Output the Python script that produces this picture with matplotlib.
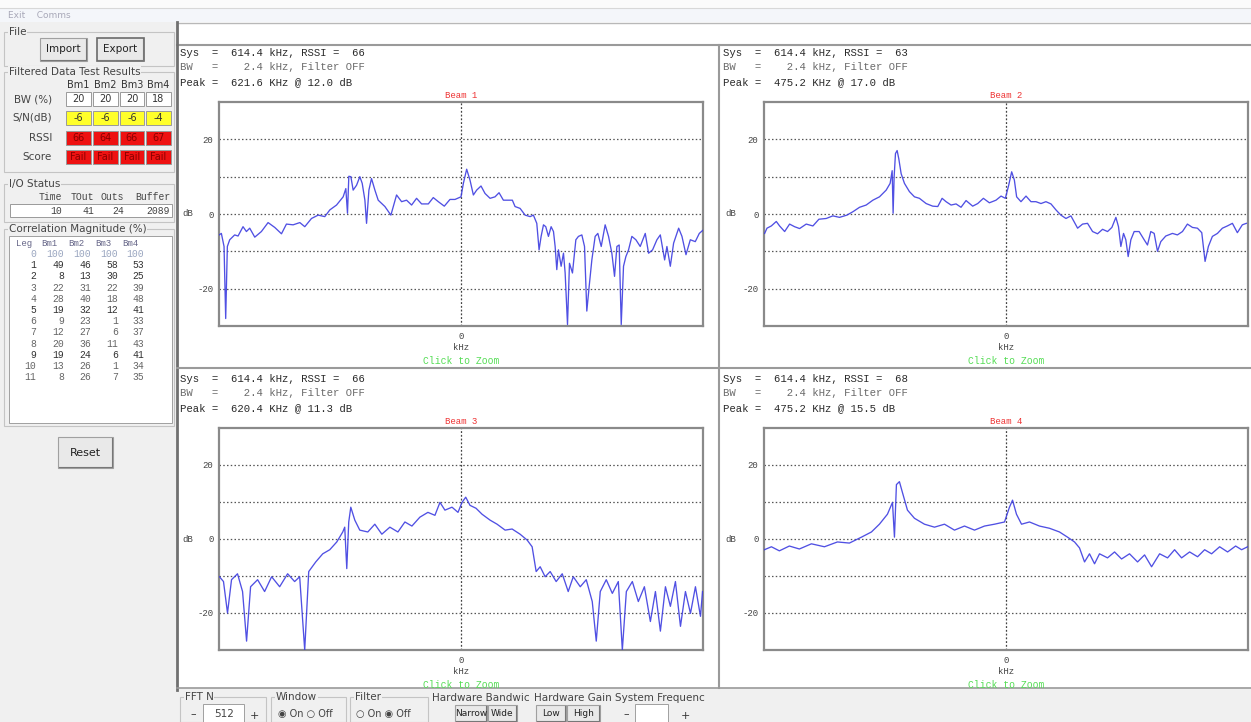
import matplotlib
matplotlib.use("Agg")
import matplotlib.pyplot as plt
from matplotlib.patches import Rectangle

# ---------------- data ----------------
beam_names = ["Beam 1", "Beam 2", "Beam 3", "Beam 4"]
header_sys = ["Sys  =  614.4 kHz, RSSI =  66", "Sys  =  614.4 kHz, RSSI =  63",
              "Sys  =  614.4 kHz, RSSI =  66", "Sys  =  614.4 kHz, RSSI =  68"]
header_bw = ["BW   =    2.4 kHz, Filter OFF"] * 4
header_peak = ["Peak =  621.6 KHz @ 12.0 dB", "Peak =  475.2 KHz @ 17.0 dB",
               "Peak =  620.4 KHz @ 11.3 dB", "Peak =  475.2 KHz @ 15.5 dB"]

b1_khz = [-307, -304.2, -300.8, -298.7, -296.6, -293.6, -287.3, -283.0, -276.7, -272.4, -268.2, -261.8,
          -253.4, -244.9, -236.4, -227.9, -221.6, -213.1, -204.6, -198.3, -189.8, -181.3, -172.9, -166.5,
          -158.0, -149.6, -146.2, -144.1, -142.4, -139.8, -136.9, -132.6, -128.4, -125.4, -122.0, -119.9,
          -116.9, -113.6, -109.3, -105.1, -96.6, -89.0, -81.8, -75.4, -69.1, -62.7, -56.4, -50.0, -41.5,
          -35.2, -28.8, -21.2, -14.0, -7.6, 0, 3.0, 7.2, 11.4, 15.7, 19.9, 25.4, 30.5, 36.9, 43.2, 48.3,
          53.8, 60.2, 65.2, 68.6, 75.0, 81.4, 87.7, 91.9, 96.2, 99.1, 101.7, 104.7, 107.6, 111.0, 114.4,
          117.4, 119.5, 121.6, 123.7, 127.1, 130.1, 132.2, 135.2, 137.7, 141.5, 145.8, 149.1, 153.4, 156.8,
          159.7, 162.7, 166.1, 170.3, 173.7, 178.0, 183.0, 187.3, 191.5, 194.9, 197.9, 200.8, 203.4, 206.3,
          209.3, 212.7, 216.9, 222.0, 227.5, 233.9, 238.1, 243.2, 248.7, 253.0, 258.5, 261.4, 265.7, 269.9,
          276.3, 280.5, 285.6, 291.1, 297.4, 302.5, 306.8]
b1_db = [-5.6, -5.2, -8.7, -28.0, -8.7, -6.9, -5.6, -5.9, -3.4, -4.7, -3.8, -6.2, -4.7, -2.3, -3.6, -5.3,
         -2.7, -2.9, -2.3, -3.4, -1.2, -0.3, -0.7, 1.1, 2.4, 4.6, 6.8, 0.2, 10.1, 10.0, 6.4, 7.7, 10.0, 8.2,
         3.7, -2.5, 6.4, 9.5, 6.4, 3.7, 2.0, -0.3, 5.1, 3.3, 3.7, 2.4, 4.2, 2.7, 2.7, 4.4, 3.3, 2.1, 3.9, 3.9,
         4.6, 8.2, 12.0, 9.1, 5.1, 6.4, 7.5, 5.5, 4.2, 4.6, 5.7, 3.7, 3.7, 3.7, 2.0, 1.5, -0.3, -0.7, -0.3,
         -2.5, -9.6, -6.0, -2.9, -3.4, -6.0, -3.4, -4.7, -8.7, -14.9, -9.6, -14.0, -10.5, -15.8, -29.6, -13.2,
         -15.8, -6.9, -6.0, -5.6, -8.7, -26.0, -19.4, -12.3, -6.0, -5.2, -8.7, -2.9, -6.0, -10.5, -16.7, -8.7,
         -8.3, -29.6, -14.0, -11.4, -9.6, -6.0, -6.9, -8.7, -5.2, -10.5, -9.6, -6.9, -5.6, -12.3, -8.7, -14.0,
         -7.8, -3.8, -6.0, -10.9, -6.9, -7.4, -5.2, -4.4]

b2_khz = [-306.4, -303.4, -297.9, -291.6, -287.4, -281.0, -274.7, -268.4, -262.0, -253.6, -245.1, -237.5,
          -228.2, -219.8, -211.3, -202.0, -194.4, -185.9, -177.5, -169.0, -160.6, -152.1, -147.1, -144.5,
          -143.3, -142.0, -140.3, -138.2, -136.1, -133.1, -128.9, -122.6, -116.2, -109.9, -101.4, -93.0,
          -86.6, -81.1, -76.1, -69.7, -63.4, -57.1, -50.7, -42.3, -35.9, -28.7, -21.1, -12.7, -6.3, -0.8,
          3.4, 7.2, 10.6, 13.5, 19.0, 25.4, 31.7, 38.0, 44.4, 50.7, 57.1, 63.4, 69.7, 76.1, 82.4, 90.9, 97.2,
          103.5, 109.9, 116.2, 122.6, 128.9, 134.4, 139.5, 142.8, 145.8, 149.2, 152.1, 155.1, 158.5, 162.7,
          169.0, 175.4, 179.6, 183.8, 188.1, 192.3, 196.5, 202.8, 211.3, 217.6, 224.0, 230.3, 236.7, 243.0,
          248.5, 252.7, 256.9, 262.0, 268.4, 274.7, 281.0, 287.4, 293.7, 300.0, 305.1]
b2_db = [-5.2, -3.8, -3.2, -2.0, -3.2, -4.7, -2.7, -3.4, -3.9, -2.7, -3.2, -1.4, -1.2, -0.5, -0.9, -0.3,
         0.6, 1.8, 2.4, 3.7, 4.6, 6.4, 8.2, 11.6, 0.2, 10.0, 16.2, 17.0, 14.8, 10.8, 8.2, 6.0, 4.6, 4.2, 2.8,
         2.1, 2.0, 4.2, 3.3, 2.4, 2.7, 1.8, 3.6, 2.1, 2.8, 4.2, 3.0, 3.7, 4.8, 4.2, 7.7, 11.3, 9.1, 4.6, 3.3,
         4.8, 3.3, 3.3, 2.8, 3.3, 2.7, 1.1, -0.3, -1.2, -0.5, -3.8, -2.7, -2.5, -4.7, -5.3, -4.1, -4.7, -3.6,
         -0.9, -3.4, -8.7, -5.2, -6.9, -11.4, -6.9, -4.7, -4.7, -6.9, -8.3, -4.7, -5.2, -10.0, -7.4, -5.9,
         -5.2, -5.6, -4.7, -2.7, -3.6, -3.8, -5.0, -12.7, -8.7, -6.0, -5.2, -3.8, -3.2, -2.5, -5.0, -2.9, -2.5]

b3_khz = [-306.6, -301.5, -296.4, -291.3, -283.7, -277.3, -272.2, -267.1, -258.2, -249.3, -240.4, -230.2,
          -220.1, -211.2, -204.8, -198.4, -193.3, -184.4, -175.5, -166.6, -157.7, -150.1, -147.6, -145.0,
          -142.5, -139.9, -134.8, -128.5, -118.3, -109.4, -100.5, -90.3, -80.1, -71.2, -62.3, -52.2, -42.0,
          -33.1, -26.7, -20.4, -11.4, -3.8, 1.3, 6.0, 11.4, 19.1, 26.7, 36.9, 45.8, 56.0, 64.9, 75.0, 84.0,
          90.3, 95.4, 100.5, 106.8, 113.2, 120.8, 128.5, 136.1, 142.5, 151.4, 159.0, 166.6, 171.7, 176.8,
          184.4, 192.1, 199.7, 204.8, 209.9, 217.5, 225.1, 232.8, 240.4, 246.8, 253.1, 259.5, 265.8, 272.2,
          278.6, 284.9, 291.3, 297.6, 304.0, 306.6]
b3_db = [-10.2, -11.5, -20.0, -11.0, -9.4, -14.2, -27.6, -12.9, -11.0, -14.2, -10.2, -12.9, -9.4, -11.5,
         -10.2, -30.0, -8.8, -6.2, -4.0, -2.9, -0.8, 1.9, 3.2, -8.0, 4.6, 8.6, 5.1, 2.4, 1.9, 4.0, 1.3, 3.2,
         1.9, 4.6, 3.5, 5.9, 7.2, 6.4, 9.9, 7.8, 8.6, 7.2, 9.9, 11.3, 9.1, 8.3, 6.7, 5.1, 4.0, 2.4, 2.7, 1.3,
         -0.3, -2.1, -8.8, -7.5, -10.2, -8.8, -11.5, -9.4, -14.2, -10.2, -12.9, -11.0, -16.9, -27.6, -14.2,
         -11.0, -14.7, -11.5, -30.0, -14.2, -11.5, -16.9, -12.9, -22.3, -14.2, -24.9, -12.9, -18.2, -11.5,
         -23.6, -14.2, -20.1, -12.9, -20.9, -14.2]

b4_khz = [-306.7, -297.8, -287.7, -275.0, -262.3, -247.0, -230.5, -214.0, -198.8, -183.5, -170.8, -160.7,
          -150.5, -144.1, -141.6, -139.1, -135.3, -131.5, -125.1, -116.2, -103.5, -90.8, -78.1, -65.4, -52.7,
          -40.0, -27.3, -14.6, -1.9, 4.4, 8.3, 13.3, 19.7, 29.8, 42.5, 55.2, 67.9, 78.1, 87.0, 93.3, 99.7,
          106.0, 112.4, 118.7, 128.9, 137.8, 146.7, 156.8, 167.0, 175.9, 184.8, 195.0, 205.1, 214.0, 222.9,
          233.1, 243.2, 252.1, 261.0, 271.2, 281.3, 291.5, 299.1, 306.7]
b4_db = [-2.9, -2.1, -3.2, -1.9, -2.7, -1.3, -2.1, -0.8, -1.1, 0.5, 1.9, 4.0, 6.7, 9.9, 0.5, 14.7, 15.5,
         12.6, 7.8, 5.6, 4.0, 3.2, 4.0, 2.4, 3.5, 2.4, 3.5, 4.0, 4.6, 8.6, 10.5, 6.7, 4.0, 4.6, 3.5, 2.9, 1.9,
         0.5, -0.8, -2.4, -6.2, -4.0, -6.7, -4.0, -5.1, -3.5, -5.4, -4.0, -6.2, -4.3, -7.5, -4.0, -5.1, -2.9,
         -5.1, -3.5, -4.8, -2.9, -4.0, -2.1, -3.5, -1.9, -2.9, -2.1]

col_names = ["Bm1", "Bm2", "Bm3", "Bm4"]
bw_pct = [20, 20, 20, 18]
snr_db = [-6, -6, -6, -4]
rssi = [66, 64, 66, 67]
score = ["Fail", "Fail", "Fail", "Fail"]
io_labels = ["Time", "TOut", "Outs", "Buffer"]
io_values = [10, 41, 24, 2089]
corr_lags = list(range(12))
corr_bm1 = [100, 49, 8, 22, 28, 19, 9, 12, 20, 19, 13, 8]
corr_bm2 = [100, 46, 13, 31, 40, 32, 23, 27, 36, 24, 26, 26]
corr_bm3 = [100, 58, 30, 22, 18, 12, 1, 6, 11, 6, 1, 7]
corr_bm4 = [100, 53, 25, 39, 48, 41, 33, 37, 43, 41, 34, 35]
fft_n = "512"

# ---------------- figure ----------------
W, H = 1251, 722
fig = plt.figure(figsize=(W / 100, H / 100), dpi=100)
bg = fig.add_axes([0, 0, 1, 1])
bg.set_xlim(0, W)
bg.set_ylim(H, 0)
bg.axis("off")

SANS = "DejaVu Sans"
MONO = "Liberation Mono"
GUI = "#f0f0f0"


def rect(x0, y0, x1, y1, fc, ec="none", lw=1.0, z=1):
    bg.add_patch(Rectangle((x0, y0), x1 - x0, y1 - y0, facecolor=fc,
                           edgecolor=ec, linewidth=lw, zorder=z))


def txt(x, y, s, size=7.5, color="#333333", ha="left", va="center", family=SANS, z=5, **kw):
    bg.text(x, y, s, fontsize=size, color=color, ha=ha, va=va, family=family, zorder=z, **kw)


def button(x0, y0, x1, y1, label, size=7.5, dark=False):
    rect(x0, y0, x1, y1, "#e9e9e9", ec="#6a6a6a" if dark else "#a0a0a0", lw=1.2 if dark else 0.8, z=3)
    bg.plot([x0 + 1, x1 - 1, x1 - 1], [y1 - 1, y1 - 1, y0 + 1], color="#777777", lw=0.8, zorder=4)
    txt((x0 + x1) / 2, (y0 + y1) / 2, label, size=size, ha="center", color="#222222")


def group(x0, y0, x1, y1, label):
    rect(x0, y0, x1, y1, "none", ec="#c4c4c4", lw=0.8, z=2)
    txt(x0 + 5, y0, label, size=7.5, color="#444444", z=5,
        bbox=dict(boxstyle="square,pad=0.05", fc=GUI, ec="none"))


# window background
rect(0, 0, W, H, GUI, z=0)
rect(0, 0, W, 8, "#fbfbfb", z=0.5)
rect(0, 8, W, 22, "#f4f6fa", z=0.5)
bg.plot([0, W], [8, 8], color="#d8d8d8", lw=0.8, zorder=1)
txt(8, 15, "Exit    Comms", size=6.5, color="#a8a8b8")

# plot area
rect(177, 22, W, 688, "white", z=0.6)
bg.plot([177, W], [23, 23], color="#b8b8b8", lw=1.0, zorder=1)
bg.plot([177, W], [45, 45], color="#9a9a9a", lw=1.5, zorder=1)
bg.plot([177, 177], [22, 690], color="#707070", lw=2.0, zorder=1)
bg.plot([719, 719], [45, 688], color="#9a9a9a", lw=1.5, zorder=1)
bg.plot([177, W], [368, 368], color="#9a9a9a", lw=1.5, zorder=1)
bg.plot([177, W], [688, 688], color="#9a9a9a", lw=1.2, zorder=1)

# ---------------- left panel ----------------
group(4, 32, 174, 66, "File")
button(40, 38, 87, 61, "Import")
button(97, 38, 144, 61, "Export", dark=True)

group(4, 72, 174, 172, "Filtered Data Test Results")
cell_x = [65, 92, 119, 145, 172]
for i, c in enumerate(col_names):
    txt((cell_x[i] + cell_x[i + 1]) / 2, 85, c, size=7, ha="center", color="#333333")

rows = [("BW (%)", bw_pct, "white", "#333333", 99),
        ("S/N(dB)", snr_db, "#ffff2a", "#333333", 118),
        ("RSSI", rssi, "#ee1111", "#8a0000", 138),
        ("Score", score, "#ee1111", "#8a0000", 157)]
for label, vals, fc, tc, yc in rows:
    txt(52, yc, label, size=7.5, ha="right", color="#444444")
    for i, v in enumerate(vals):
        rect(cell_x[i] + 1, yc - 7, cell_x[i + 1] - 1, yc + 7, fc, ec="#9a9a9a", lw=0.7, z=3)
        txt((cell_x[i] + cell_x[i + 1]) / 2, yc, str(v), size=7, ha="center", color=tc)

group(4, 184, 174, 222, "I/O Status")
io_right = [62, 94, 124, 170]
for lab, v, xr in zip(io_labels, io_values, io_right):
    txt(xr, 197, lab, size=7, ha="right", family=MONO, color="#444444")
rect(10, 204, 172, 217, "white", ec="#9a9a9a", lw=0.7, z=3)
for v, xr in zip(io_values, io_right):
    txt(xr, 211, str(v), size=7, ha="right", family=MONO, color="#444444")

group(4, 229, 174, 426, "Correlation Magnitude (%)")
rect(9, 236, 172, 423, "white", ec="#a0a0a0", lw=0.7, z=3)
hdr_right = [32, 57, 84, 111, 138]
for lab, xr in zip(["Leg"] + col_names, hdr_right):
    txt(xr, 243, lab, size=6.5, ha="right", family=MONO, color="#666688")
val_right = [36, 64, 91, 118, 144]
for r, lag in enumerate(corr_lags):
    yy = 254 + r * 11.2
    col = "#9aa6c0" if r == 0 else ("#333333" if r in (1, 2, 5, 9) else "#666666")
    row_vals = [lag, corr_bm1[r], corr_bm2[r], corr_bm3[r], corr_bm4[r]]
    for v, xr in zip(row_vals, val_right):
        txt(xr, yy, str(v), size=7, ha="right", family=MONO, color=col)

button(58, 437, 113, 468, "Reset", size=8)

# ---------------- bottom controls ----------------
group(180, 697, 266, 722, "FFT N")
txt(193, 714, "\u2013", size=8, ha="center")
rect(203, 704, 244, 722, "white", ec="#a0a0a0", lw=0.7, z=3)
txt(224, 714, fft_n, size=7.5, ha="center", color="#444444")
txt(254, 716, "+", size=8, ha="center")
group(271, 697, 346, 722, "Window")
txt(278, 714, "\u25c9 On \u25cb Off", size=7, color="#444444")
group(350, 697, 428, 722, "Filter")
txt(356, 714, "\u25cb On \u25c9 Off", size=7, color="#444444")
txt(432, 698, "Hardware Bandwic", size=7.5, color="#444444")
button(455, 705, 487, 722, "Narrow", size=6.5)
button(488, 705, 517, 722, "Wide", size=6.5)
txt(534, 698, "Hardware Gain", size=7.5, color="#444444")
button(536, 705, 566, 722, "Low", size=6.5)
button(567, 705, 600, 722, "High", size=6.5)
txt(615, 698, "System Frequenc", size=7.5, color="#444444")
txt(626, 714, "\u2013", size=8, ha="center")
rect(635, 704, 668, 722, "white", ec="#a0a0a0", lw=0.7, z=3)
txt(685, 716, "+", size=8, ha="center")

# ---------------- spectrum plots ----------------
freqs = [b1_khz, b2_khz, b3_khz, b4_khz]
dbs = [b1_db, b2_db, b3_db, b4_db]
panel_left = [177, 720, 177, 720]
axes_box = [(219, 102, 703, 326), (764, 102, 1248, 326),
            (219, 428, 703, 650), (764, 428, 1248, 650)]
FS_HALF = 614.4 / 2

for k in range(4):
    x0, y0, x1, y1 = axes_box[k]
    px = panel_left[k] + 3
    # header text
    txt(px, y0 - 49, header_sys[k], size=7.7, family=MONO, color="#2a2a2a")
    txt(px, y0 - 35, header_bw[k], size=7.7, family=MONO, color="#6a6a6a")
    txt(px, y0 - 20, header_peak[k], size=7.7, family=MONO, color="#2a2a2a")
    cx = (x0 + x1) / 2
    txt(cx, y0 - 6, beam_names[k], size=6.5, family=MONO, color="#ee3333", ha="center")
    txt(px + 2, y0 + (y1 - y0) / 2, "dB", size=6.5, family=MONO, color="#444444")
    txt(cx, y1 + 22, "kHz", size=6.5, family=MONO, color="#444444", ha="center")
    txt(cx, y1 + 35, "Click to Zoom", size=7, family=MONO, color="#55dd55", ha="center")

    ax = fig.add_axes([x0 / W, 1 - y1 / H, (x1 - x0) / W, (y1 - y0) / H])
    ax.set_xlim(-FS_HALF, FS_HALF)
    ax.set_ylim(-30, 30)
    for v in [-20, -10, 0, 10, 20]:
        ax.axhline(v, color="#555555", ls=(0, (1.2, 1.8)), lw=0.9, zorder=1)
    ax.axvline(0, color="#444444", ls=(0, (1.5, 1.5)), lw=0.9, zorder=1)
    ax.plot(freqs[k], dbs[k], color="#3d3de0", lw=0.95, zorder=3, alpha=0.9)
    ax.set_yticks([-20, 0, 20])
    ax.set_yticklabels(["-20", "0", "20"])
    ax.set_xticks([0])
    ax.set_xticklabels(["0"])
    ax.tick_params(length=0, labelsize=6.5, labelcolor="#444444", pad=4)
    for lab in ax.get_xticklabels() + ax.get_yticklabels():
        lab.set_family(MONO)
    for sp in ax.spines.values():
        sp.set_color("#8a8a8a")
        sp.set_linewidth(1.6)

fig.savefig("out.png", dpi=100, facecolor=GUI)
